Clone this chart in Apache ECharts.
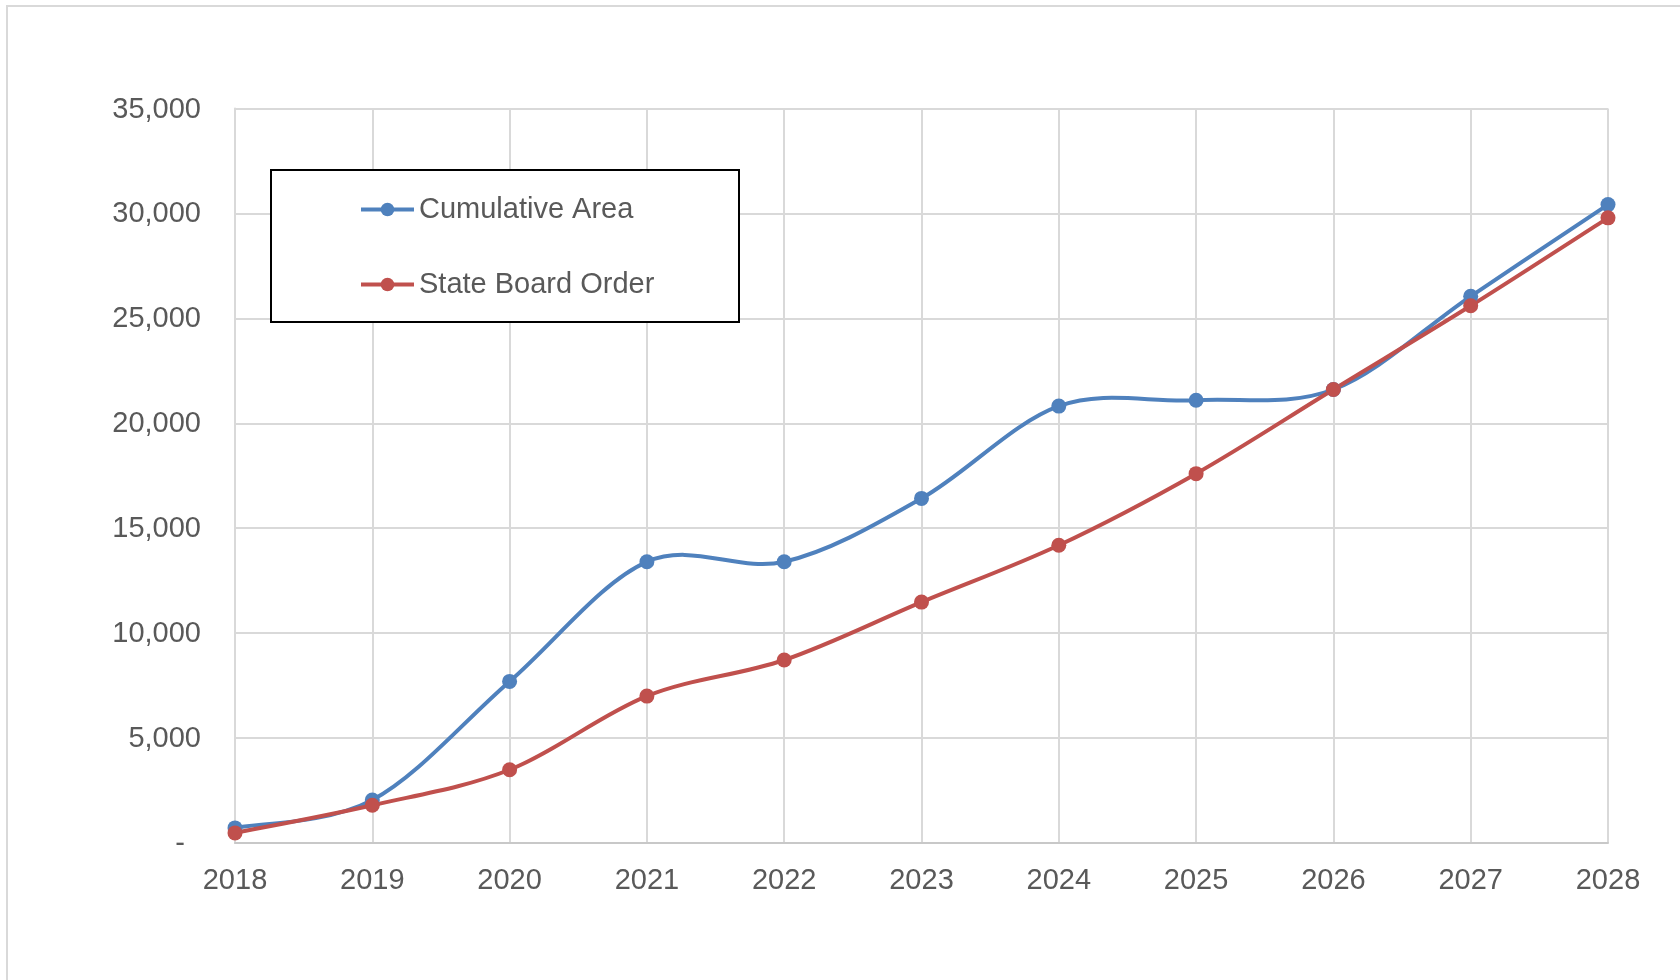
<!DOCTYPE html>
<html>
<head>
<meta charset="utf-8">
<script src="https://cdn.jsdelivr.net/npm/echarts@6/dist/echarts.min.js"></script>
<style>
  html, body { margin: 0; padding: 0; background: #fff; }
  #chart { width: 1680px; height: 980px; }
</style>
</head>
<body>
<div id="chart"></div>
<script>
const years = ["2018", "2019", "2020", "2021", "2022", "2023", "2024", "2025", "2026", "2027", "2028"]
const cumulativeArea = [720, 2050, 7700, 13400, 13400, 16420, 20820, 21100, 21610, 26050, 30420]
const stateBoardOrder = [480, 1800, 3490, 7000, 8720, 11480, 14190, 17600, 21610, 25600, 29790]
const yTicks = { min: 0, max: 35000, interval: 5000 }

const labelFont = "'Liberation Sans', Arial, sans-serif"
const gray = "#595959"
const gridGray = "#d9d9d9"
const blue = "#4f81bd"
const red = "#c0504d"

// Excel-style smoothed segment (Catmull-Rom as cubic bezier) from point i to i+1
function curveSeries(name, values, color) {
  return {
    name: name,
    type: "custom",
    data: values.slice(0, -1).map((v, i) => [i, v]),
    encode: { x: 0, y: 1 },
    silent: true,
    renderItem: (params, api) => {
      const i = params.dataIndex
      const n = values.length
      const pt = k => api.coord([Math.max(0, Math.min(n - 1, k)), values[Math.max(0, Math.min(n - 1, k))]])
      const p0 = pt(i - 1), p1 = pt(i), p2 = pt(i + 1), p3 = pt(i + 2)
      const c1 = [p1[0] + (p2[0] - p0[0]) / 6, p1[1] + (p2[1] - p0[1]) / 6]
      const c2 = [p2[0] - (p3[0] - p1[0]) / 6, p2[1] - (p3[1] - p1[1]) / 6]
      return {
        type: "bezierCurve",
        shape: { x1: p1[0], y1: p1[1], cpx1: c1[0], cpy1: c1[1], cpx2: c2[0], cpy2: c2[1], x2: p2[0], y2: p2[1] },
        style: { stroke: color, lineWidth: 4, fill: null, lineCap: "round" }
      }
    }
  }
}

function markerSeries(name, values, color) {
  return {
    name: name,
    type: "line",
    data: values,
    color: color,
    symbol: "circle",
    symbolSize: 15,
    lineStyle: { width: 0 }
  }
}

const chart = echarts.init(document.getElementById("chart"))

chart.setOption({
  animation: false,
  grid: { left: 235, right: 72, top: 108.5, bottom: 137, containLabel: false },
  graphic: [
    // outer chart frame (only top/left visible)
    { type: "rect", z: 0, shape: { x: 7, y: 6, width: 2000, height: 2000 }, style: { fill: null, stroke: gridGray, lineWidth: 2 } },
    // legend box
    { type: "rect", z: 3, shape: { x: 271, y: 170, width: 468, height: 152 }, style: { fill: "#fff", stroke: "#000", lineWidth: 2 } }
  ],
  legend: {
    z: 5,
    orient: "vertical",
    left: 359,
    top: 195,
    padding: 0,
    itemWidth: 53,
    itemHeight: 17,
    itemGap: 46,
    lineStyle: { width: 4 },
    textStyle: { fontFamily: labelFont, fontSize: 29, color: gray },
    data: ["Cumulative Area", "State Board Order"]
  },
  xAxis: {
    type: "category",
    data: years,
    boundaryGap: false,
    axisLine: { show: true, lineStyle: { color: "#c8c8c8", width: 2 } },
    axisTick: { show: false },
    splitLine: { show: true, lineStyle: { color: gridGray, width: 2 } },
    axisLabel: { fontFamily: labelFont, fontSize: 29, color: gray, margin: 23 }
  },
  yAxis: {
    type: "value",
    min: yTicks.min,
    max: yTicks.max,
    interval: yTicks.interval,
    axisLine: { show: true, lineStyle: { color: gridGray, width: 2 } },
    axisTick: { show: false },
    splitLine: { show: true, lineStyle: { color: gridGray, width: 2 } },
    axisLabel: {
      fontFamily: labelFont,
      fontSize: 29,
      color: gray,
      margin: 34,
      padding: [2, 0, 0, 0],
      formatter: v => v === 0 ? "{d|-}" : v.toLocaleString("en-US"),
      rich: { d: { fontFamily: labelFont, fontSize: 29, color: gray, padding: [0, 16, 0, 0] } }
    }
  },
  series: [
    curveSeries("Cumulative Area curve", cumulativeArea, blue),
    markerSeries("Cumulative Area", cumulativeArea, blue),
    curveSeries("State Board Order curve", stateBoardOrder, red),
    markerSeries("State Board Order", stateBoardOrder, red)
  ]
})
</script>
</body>
</html>
